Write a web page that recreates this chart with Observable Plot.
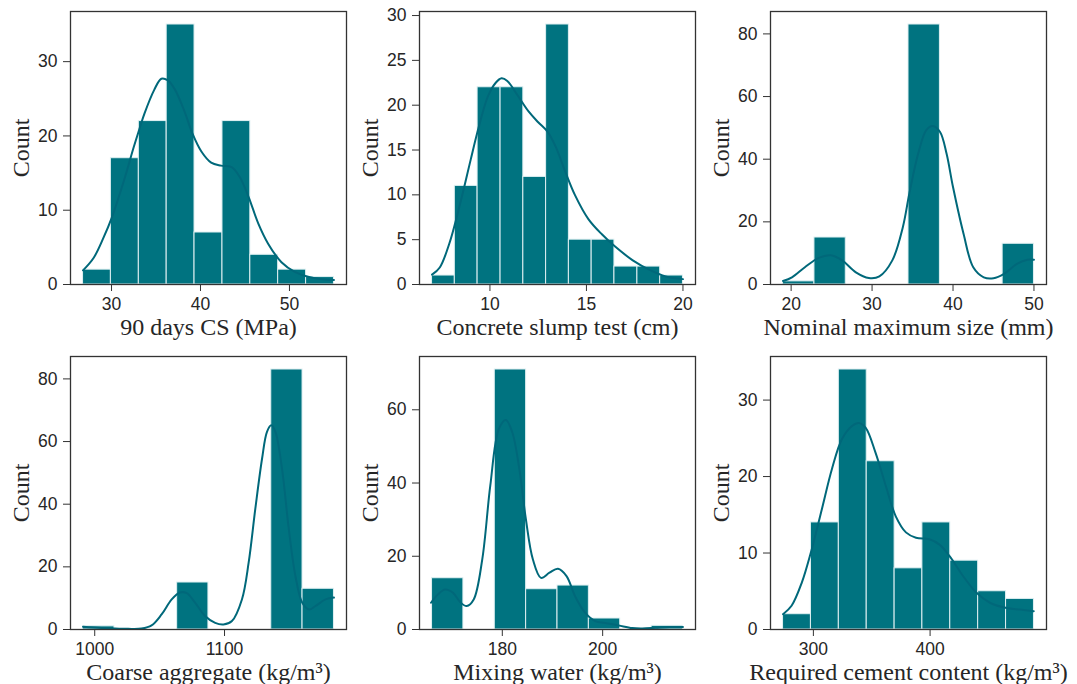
<!DOCTYPE html>
<html><head><meta charset="utf-8">
<script src="https://cdn.jsdelivr.net/npm/d3@7"></script>
<script src="https://cdn.jsdelivr.net/npm/@observablehq/plot@0.6"></script>
<style>
body{margin:0;background:#fff;}
#wrap{position:relative;width:1077px;height:684px;overflow:hidden;background:#fff;}
.panel{position:absolute;}
</style></head><body><div id="wrap"></div>
<script>
// ---------- DATA ----------
const xLabels = ["90 days CS (MPa)", "Concrete slump test (cm)", "Nominal maximum size (mm)",
  "Coarse aggregate (kg/m³)", "Mixing water (kg/m³)", "Required cement content (kg/m³)"];
const yLabel = "Count";

// 1. 90 days CS
const csEdges = [26.8, 29.93, 33.07, 36.2, 39.33, 42.47, 45.6, 48.73, 51.87, 55.0];
const csCounts = [2, 17, 22, 35, 7, 22, 4, 2, 1];
const csKdeX = [26.8, 28.0, 29.1, 30.0, 31.4, 32.5, 33.1, 33.7, 34.8, 35.6, 36.3, 37.1, 38.2, 39.1, 40.1, 41.2, 42.3, 43.5, 44.4, 45.4, 46.5, 47.6, 49.1, 50.6, 52.2, 53.7, 55.0];
const csKdeY = [1.9, 3.6, 6.3, 8.9, 14.0, 18.5, 20.8, 23.0, 26.2, 27.7, 27.5, 26.3, 23.3, 20.3, 17.9, 16.4, 16.0, 15.8, 14.5, 11.8, 8.2, 5.5, 3.0, 1.7, 1.0, 0.7, 0.6];
const csXTicks = [30, 40, 50];
const csYTicks = [0, 10, 20, 30];

// 2. Concrete slump test
const slEdges = [7.0, 8.18, 9.36, 10.55, 11.73, 12.91, 14.09, 15.27, 16.45, 17.64, 18.82, 20.0];
const slCounts = [1, 11, 22, 22, 12, 29, 5, 5, 2, 2, 1];
const slKdeX = [7.0, 7.4, 7.9, 8.5, 9.0, 9.4, 9.9, 10.3, 10.6, 10.9, 11.4, 12.0, 12.5, 13.0, 13.4, 13.9, 14.4, 15.1, 15.8, 16.5, 17.4, 18.3, 19.1, 20.0];
const slKdeY = [1.1, 1.9, 4.6, 9.4, 13.9, 17.4, 21.0, 22.5, 23.0, 22.7, 21.2, 19.3, 18.1, 17.0, 15.4, 12.6, 10.0, 7.3, 5.6, 4.2, 2.7, 1.6, 0.9, 0.6];
const slXTicks = [10, 15, 20];
const slYTicks = [0, 5, 10, 15, 20, 25, 30];

// 3. Nominal maximum size
const nmEdges = [19, 22.88, 26.75, 30.63, 34.5, 38.38, 42.25, 46.13, 50];
const nmCounts = [1, 15, 0, 0, 83, 0, 0, 13];
const nmKdeX = [19.0, 20.1, 21.7, 23.4, 24.9, 26.3, 28.0, 29.6, 30.9, 32.5, 33.8, 34.6, 35.7, 36.7, 37.5, 38.4, 39.2, 40.0, 41.3, 42.5, 43.8, 45.0, 46.3, 47.9, 49.2, 50.0];
const nmKdeY = [1.1, 2.3, 5.5, 8.5, 9.3, 7.7, 3.9, 2.1, 2.6, 7.7, 18.3, 29.0, 41.8, 49.3, 50.6, 48.7, 41.8, 31.1, 16.2, 5.5, 2.3, 2.0, 3.4, 6.6, 7.9, 7.9];
const nmXTicks = [20, 30, 40, 50];
const nmYTicks = [0, 20, 40, 60, 80];

// 4. Coarse aggregate
const caEdges = [991, 1015.2, 1039.3, 1063.5, 1087.6, 1111.8, 1136, 1160.1, 1184.3];
const caCounts = [1, 0, 0, 15, 0, 0, 83, 13];
const caKdeX = [991, 1005, 1015.5, 1025.8, 1036, 1043.8, 1051.5, 1059.3, 1065.7, 1070.9, 1077.3, 1085, 1092.8, 1099.2, 1105.7, 1113.4, 1118.6, 1123.7, 1128.9, 1132.7, 1136, 1139.2, 1144.3, 1149.5, 1154.6, 1159.8, 1165, 1170.1, 1177.8, 1184.3];
const caKdeY = [0.9, 0.5, 0.3, 0.2, 0.3, 1.3, 4.8, 9.6, 11.8, 11.6, 8.6, 4.3, 2.1, 1.6, 2.7, 9.6, 21.4, 38.5, 54.5, 63.1, 65.2, 63.1, 51.3, 32.1, 17.1, 8.6, 6.4, 7.5, 9.6, 10.2];
const caXTicks = [1000, 1100];
const caYTicks = [0, 20, 40, 60, 80];

// 5. Mixing water
const mwEdges = [166, 172.25, 178.5, 184.75, 191, 197.25, 203.5, 209.75, 216];
const mwCounts = [14, 0, 71, 11, 12, 3, 0, 1];
const mwKdeX = [165.8, 167.2, 168.6, 170.2, 171.6, 172.9, 174.3, 176.0, 177.6, 179.3, 180.7, 182.0, 183.4, 184.7, 186.1, 187.7, 189.4, 191.1, 192.8, 194.5, 196.5, 198.5, 200.5, 203.2, 205.9, 207.9, 210.6, 213.3, 216.0];
const mwKdeY = [7.3, 9.6, 10.9, 10.0, 7.5, 6.4, 8.2, 19.1, 39.2, 54.7, 57.2, 53.8, 43.8, 30.1, 19.1, 14.1, 15.5, 16.6, 14.6, 9.1, 4.6, 2.3, 1.8, 1.1, 0.4, 0.3, 0.5, 0.7, 0.7];
const mwXTicks = [180, 200];
const mwYTicks = [0, 20, 40, 60];

// 6. Required cement content
const ccEdges = [274, 297.9, 321.8, 345.7, 369.6, 393.4, 417.3, 441.2, 465.1, 489];
const ccCounts = [2, 14, 34, 22, 8, 14, 9, 5, 4];
const ccKdeX = [274, 281.3, 290, 298.6, 307.2, 315.9, 324.5, 333.1, 338.9, 344.7, 353.3, 362.0, 370.6, 379.3, 387.9, 399.4, 408.1, 416.7, 428.2, 439.8, 451.3, 465.7, 477.2, 488.8];
const ccKdeY = [2.0, 3.1, 6.1, 10.5, 15.7, 21.0, 24.9, 26.6, 27.0, 26.4, 23.1, 18.8, 14.8, 12.7, 12.0, 11.8, 11.1, 9.6, 7.0, 4.8, 3.5, 2.8, 2.6, 2.4];
const ccXTicks = [300, 400];
const ccYTicks = [0, 10, 20, 30];

const panels = [
  {edges: csEdges, counts: csCounts, kx: csKdeX, ky: csKdeY, xt: csXTicks, yt: csYTicks},
  {edges: slEdges, counts: slCounts, kx: slKdeX, ky: slKdeY, xt: slXTicks, yt: slYTicks},
  {edges: nmEdges, counts: nmCounts, kx: nmKdeX, ky: nmKdeY, xt: nmXTicks, yt: nmYTicks},
  {edges: caEdges, counts: caCounts, kx: caKdeX, ky: caKdeY, xt: caXTicks, yt: caYTicks},
  {edges: mwEdges, counts: mwCounts, kx: mwKdeX, ky: mwKdeY, xt: mwXTicks, yt: mwYTicks},
  {edges: ccEdges, counts: ccCounts, kx: ccKdeX, ky: ccKdeY, xt: ccXTicks, yt: ccYTicks}
];

// ---------- LAYOUT ----------
const frameLeft = [70, 419, 770, 70, 419, 770];
const frameTop = [11, 11, 11, 356, 356, 356];
const FW = 276, FH = 273;
const ML = 70, MR = 12, MT = 11, MB = 64;
const barFill = "#007380", lineColor = "#00687a";
const serif = "'Liberation Serif', 'Times New Roman', serif";
const wrap = document.getElementById("wrap");

panels.forEach((p, i) => {
  const bins = p.counts.map((c, j) => ({x1: p.edges[j], x2: p.edges[j + 1], count: c})).filter(d => d.count > 0);
  const kde = p.kx.map((x, j) => ({x, y: p.ky[j]}));
  const lo = p.edges[0], hi = p.edges[p.edges.length - 1], pad = (hi - lo) * 0.05;
  const ymax = d3.max(p.counts) * 1.05;
  const chart = Plot.plot({
    width: ML + FW + MR, height: MT + FH + MB,
    marginLeft: ML, marginRight: MR, marginTop: MT, marginBottom: MB,
    style: {background: "transparent", fontFamily: "'Liberation Sans', Arial, sans-serif", fontSize: "17.5px", color: "#262626", overflow: "visible"},
    x: {domain: [lo - pad, hi + pad]},
    y: {domain: [0, ymax]},
    marks: [
      Plot.rectY(bins, {x1: "x1", x2: "x2", y: "count", fill: barFill, stroke: "#dff0f2", strokeWidth: 1}),
      Plot.line(kde, {x: "x", y: "y", stroke: lineColor, strokeWidth: 2, curve: "catmull-rom"}),
      Plot.frame({stroke: "#333", strokeWidth: 1.3}),
      Plot.axisX({ticks: p.xt, tickSize: 7, tickPadding: 6, label: null, tickFormat: d => String(d), stroke: "#333"}),
      Plot.axisY({ticks: p.yt, tickSize: 7, tickPadding: 6, label: null, tickFormat: d => String(d), stroke: "#333"}),
      Plot.text([xLabels[i]], {text: d => d, frameAnchor: "bottom", dy: 50, lineAnchor: "bottom", fontFamily: serif, fontSize: 24, fill: "#262626"}),
      Plot.text([yLabel], {text: d => d, frameAnchor: "left", dx: -42, rotate: -90, lineAnchor: "bottom", textAnchor: "middle", fontFamily: serif, fontSize: 24, fill: "#262626"})
    ]
  });
  const div = document.createElement("div");
  div.className = "panel";
  div.style.left = (frameLeft[i] - ML) + "px";
  div.style.top = (frameTop[i] - MT) + "px";
  div.appendChild(chart);
  wrap.appendChild(div);
});
</script></body></html>
